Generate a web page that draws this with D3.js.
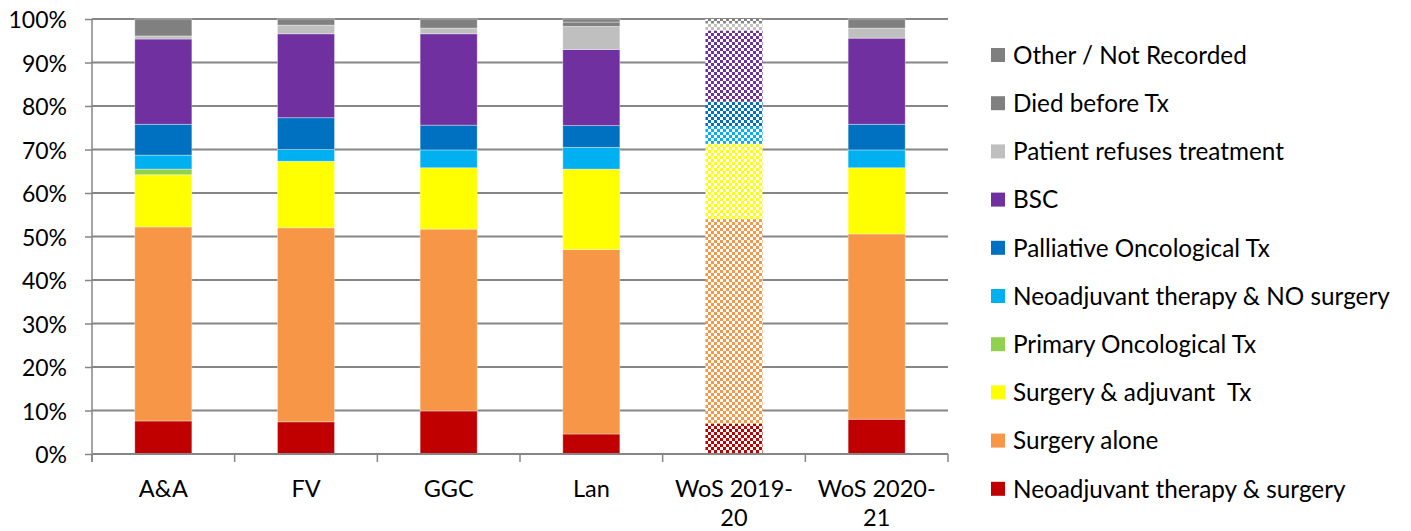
<!DOCTYPE html>
<html>
<head>
<meta charset="utf-8">
<script src="https://cdn.jsdelivr.net/npm/d3@7"></script>
<style>
  html, body { margin: 0; padding: 0; background: #fff; }
  svg { display: block; }
  text { font-family: Lato, "Open Sans", sans-serif; fill: #000; white-space: pre; }
</style>
</head>
<body>
<svg id="chart" width="1411" height="531"></svg>
<script>
// Treatment outcome shares (%) by health board, stacked bottom to top
const categories = ["A&A", "FV", "GGC", "Lan", "WoS 2019-20", "WoS 2020-21"];
const categoryLines = [["A&A"], ["FV"], ["GGC"], ["Lan"], ["WoS 2019-", "20"], ["WoS 2020-", "21"]];

const neoadjSurgery   = [7.6, 7.4, 9.9, 4.6, 6.9, 8.0];
const surgeryAlone    = [44.6, 44.6, 41.8, 42.4, 47.1, 42.6];
const surgeryAdjuvant = [12.0, 15.3, 14.1, 18.5, 17.3, 15.2];
const primaryOnc      = [1.3, 0, 0, 0, 0, 0];
const neoadjNoSurgery = [3.2, 2.7, 4.1, 5.0, 3.9, 4.1];
const palliativeOnc   = [7.1, 7.3, 5.7, 5.0, 5.8, 5.9];
const bsc             = [19.6, 19.3, 21.0, 17.5, 16.3, 19.8];
const patientRefuses  = [0.7, 2.0, 1.3, 5.3, 1.8, 2.3];
const diedBeforeTx    = [3.9, 1.4, 2.1, 1.0, 0.9, 2.1];
const otherNotRecorded = [0, 0, 0, 0.7, 0, 0];

const yTicks = [0, 10, 20, 30, 40, 50, 60, 70, 80, 90, 100];

// Series in stacking order (bottom first)
const series = [
  { key: "neo",  name: "Neoadjuvant therapy & surgery",       values: neoadjSurgery,   color: "#C00000" },
  { key: "alone", name: "Surgery alone",                      values: surgeryAlone,    color: "#F79646" },
  { key: "adj",  name: "Surgery & adjuvant  Tx",              values: surgeryAdjuvant, color: "#FFFF00" },
  { key: "prim", name: "Primary Oncological Tx",              values: primaryOnc,      color: "#92D050" },
  { key: "nons", name: "Neoadjuvant therapy & NO surgery",    values: neoadjNoSurgery, color: "#00B0F0" },
  { key: "pall", name: "Palliative Oncological Tx",           values: palliativeOnc,   color: "#0070C0" },
  { key: "bsc",  name: "BSC",                                 values: bsc,             color: "#7030A0" },
  { key: "ref",  name: "Patient refuses treatment",           values: patientRefuses,  color: "#BFBFBF" },
  { key: "died", name: "Died before Tx",                      values: diedBeforeTx,    color: "#808080" },
  { key: "oth",  name: "Other / Not Recorded",                values: otherNotRecorded, color: "#7F7F7F" }
];

// The 2019-20 West of Scotland column is drawn with a checkered fill
const patternedCategory = "WoS 2019-20";

const svg = d3.select("#chart");
const margin = { left: 92, right: 463, top: 19, bottom: 77 };
const W = 1411, H = 531;

const x = d3.scaleBand().domain(categories)
  .range([margin.left, W - margin.right]).paddingInner(0.6).paddingOuter(0.3);
const xOuter = d3.scaleBand().domain(categories)
  .range([margin.left, W - margin.right]).padding(0);
const y = d3.scaleLinear().domain([0, 100]).range([H - margin.bottom, margin.top]);

// checker patterns
const defs = svg.append("defs");
series.forEach(s => {
  const p = defs.append("pattern").attr("id", "chk-" + s.key)
    .attr("patternUnits", "userSpaceOnUse").attr("width", 6).attr("height", 6);
  p.append("rect").attr("width", 6).attr("height", 6).attr("fill", "#fff");
  p.append("rect").attr("x", 0).attr("y", 0).attr("width", 3).attr("height", 3).attr("fill", s.color);
  p.append("rect").attr("x", 3).attr("y", 3).attr("width", 3).attr("height", 3).attr("fill", s.color);
});

// gridlines + y axis
const gridColor = "#868686";
const yAxis = d3.axisLeft(y).tickValues(yTicks).tickSize(7).tickFormat(d => d + "%");
const gy = svg.append("g").attr("transform", `translate(${margin.left},0)`).call(yAxis);
gy.select(".domain").attr("stroke", gridColor).attr("stroke-width", 1.5)
  .attr("d", `M0,${y(100)}V${y(0) + 8}`);
gy.selectAll(".tick line").attr("stroke", gridColor).attr("stroke-width", 1.5);
gy.selectAll(".tick text").attr("x", -25).attr("dy", "0.37em")
  .style("font-size", "23px").style("font-family", "Lato, sans-serif");

svg.append("g").selectAll("line").data(yTicks.filter(d => d > 0)).join("line")
  .attr("x1", margin.left).attr("x2", W - margin.right)
  .attr("y1", d => y(d)).attr("y2", d => y(d))
  .attr("stroke", gridColor).attr("stroke-width", 1.8);

// stacked bars
const rows = categories.map((c, i) => {
  const r = { cat: c };
  series.forEach(s => r[s.key] = s.values[i]);
  return r;
});
const stack = d3.stack().keys(series.map(s => s.key))(rows);

const gBars = svg.append("g");
stack.forEach((layer, li) => {
  const s = series[li];
  gBars.append("g").selectAll("rect").data(layer.filter(d => d[1] - d[0] > 0)).join("rect")
    .attr("x", d => x(d.data.cat))
    .attr("width", x.bandwidth())
    .attr("y", d => y(d[1]))
    .attr("height", d => y(d[0]) - y(d[1]))
    .attr("fill", d => d.data.cat === patternedCategory ? `url(#chk-${s.key})` : s.color)
    .attr("stroke", d => d.data.cat === patternedCategory ? "none" : "#fff")
    .attr("stroke-opacity", 0.45)
    .attr("stroke-width", 0.8);
});

// x axis
const gx = svg.append("g").attr("transform", `translate(0,${y(0)})`);
gx.append("line").attr("x1", margin.left).attr("x2", W - margin.right)
  .attr("y1", 0).attr("y2", 0).attr("stroke", gridColor).attr("stroke-width", 1.8);
const boundaries = categories.map(c => xOuter(c)).concat([W - margin.right]);
gx.selectAll("line.tk").data(boundaries).join("line").attr("class", "tk")
  .attr("x1", d => d).attr("x2", d => d).attr("y1", 0).attr("y2", 8)
  .attr("stroke", gridColor).attr("stroke-width", 1.5);
gx.selectAll("text.lbl").data(categories).join("text").attr("class", "lbl")
  .attr("text-anchor", "middle")
  .style("font-size", "23.5px")
  .each(function(c, i) {
    const t = d3.select(this);
    categoryLines[i].forEach((line, li) => {
      t.append("tspan").attr("x", xOuter(c) + xOuter.bandwidth() / 2)
        .attr("y", 43 + li * 29).text(line);
    });
  });

// legend (top item = top of stack)
const legendItems = series.slice().reverse();
const lg = svg.append("g");
legendItems.forEach((s, i) => {
  const cy = 55 + i * 48.2;
  lg.append("rect").attr("x", 991).attr("y", cy - 7).attr("width", 14).attr("height", 14)
    .attr("fill", s.color);
  lg.append("text").attr("x", 1013).attr("y", cy).attr("dy", "0.36em")
    .style("font-size", "24.3px").text(s.name);
});
</script>
</body>
</html>
